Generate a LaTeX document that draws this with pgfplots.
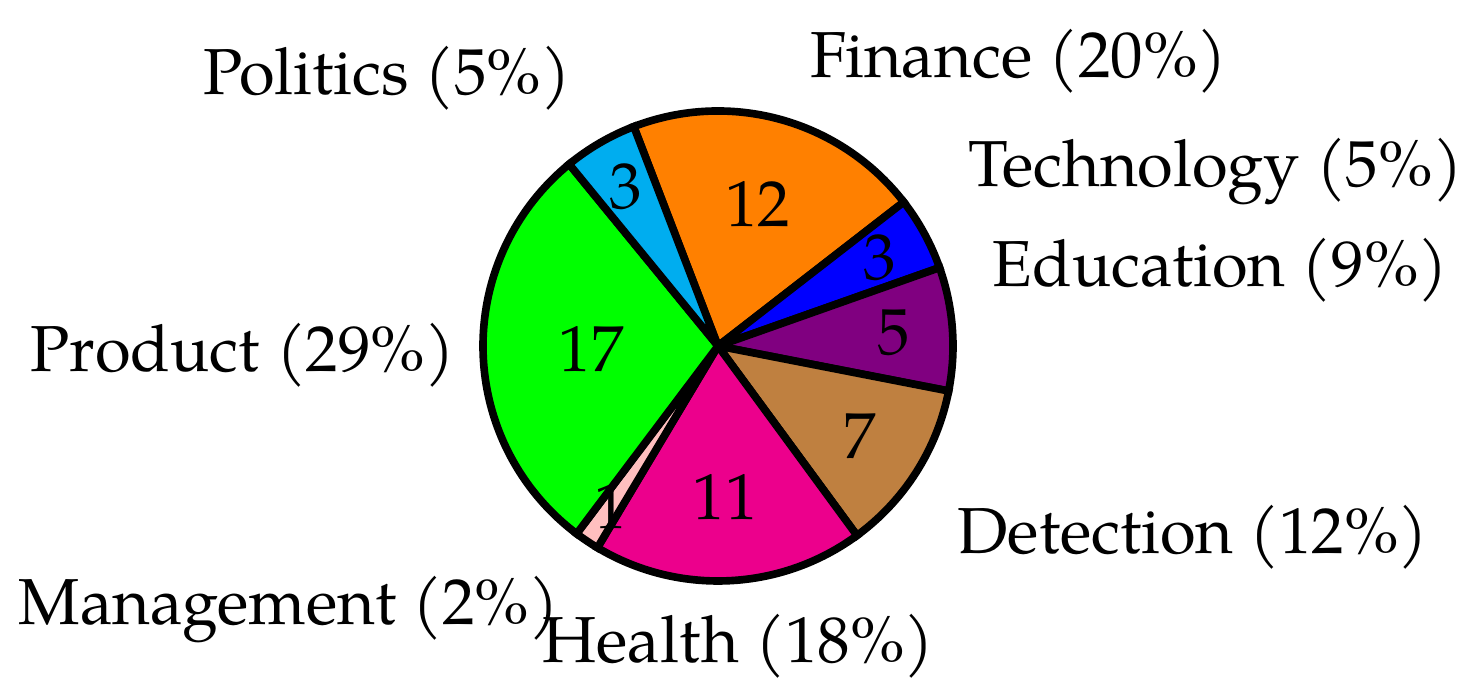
\documentclass[border=0pt]{standalone}
\usepackage{fontspec}
\setmainfont{TeX Gyre Pagella}
\usepackage{pgfplots}
\usepackage{pgfplotstable}
\pgfplotsset{compat=1.18}

\definecolor{cPol}{RGB}{0,173,239}
\definecolor{cFin}{RGB}{255,128,0}
\definecolor{cTec}{RGB}{0,0,255}
\definecolor{cEdu}{RGB}{128,0,128}
\definecolor{cDet}{RGB}{191,128,64}
\definecolor{cHea}{RGB}{236,0,140}
\definecolor{cMan}{RGB}{255,191,191}
\definecolor{cPro}{RGB}{0,255,0}

\pgfplotstableread{
name value
Finance 12
Technology 3
Education 5
Detection 7
Health 11
Management 1
Product 17
Politics 3
}\piedata

\newcommand\getv[2]{\pgfplotstablegetelem{#1}{value}\of\piedata\global\let#2\pgfplotsretval}
\getv{0}\vA \getv{1}\vB \getv{2}\vC \getv{3}\vD
\getv{4}\vE \getv{5}\vF \getv{6}\vG \getv{7}\vH

\pgfmathsetmacro\tot{\vA+\vB+\vC+\vD+\vE+\vF+\vG+\vH}
\pgfmathsetmacro\unit{360/\tot}
% boundary angles (clockwise from 111 degrees)
\pgfmathsetmacro\bO{111}
\pgfmathsetmacro\bA{\bO-\vA*\unit}
\pgfmathsetmacro\bB{\bA-\vB*\unit}
\pgfmathsetmacro\bC{\bB-\vC*\unit}
\pgfmathsetmacro\bD{\bC-\vD*\unit}
\pgfmathsetmacro\bE{\bD-\vE*\unit}
\pgfmathsetmacro\bF{\bE-\vF*\unit}
\pgfmathsetmacro\bG{\bF-\vG*\unit}
\pgfmathsetmacro\bH{\bG-\vH*\unit}
\pgfmathsetmacro\xO{cos(\bO)}\pgfmathsetmacro\yO{sin(\bO)}
\pgfmathsetmacro\xA{cos(\bA)}\pgfmathsetmacro\yA{sin(\bA)}
\pgfmathsetmacro\xB{cos(\bB)}\pgfmathsetmacro\yB{sin(\bB)}
\pgfmathsetmacro\xC{cos(\bC)}\pgfmathsetmacro\yC{sin(\bC)}
\pgfmathsetmacro\xD{cos(\bD)}\pgfmathsetmacro\yD{sin(\bD)}
\pgfmathsetmacro\xE{cos(\bE)}\pgfmathsetmacro\yE{sin(\bE)}
\pgfmathsetmacro\xF{cos(\bF)}\pgfmathsetmacro\yF{sin(\bF)}
\pgfmathsetmacro\xG{cos(\bG)}\pgfmathsetmacro\yG{sin(\bG)}
% number positions
\newcommand\numpos[5]{% value, start, end, xmacro, ymacro
  \pgfmathsetmacro\tmpr{1.045*(0.8-min(0.3*#1*\unit/110,0.5))}%
  \pgfmathsetmacro\tmpm{(#2+#3)/2}%
  \pgfmathsetmacro#4{\tmpr*cos(\tmpm)}%
  \pgfmathsetmacro#5{\tmpr*sin(\tmpm)}}
\numpos{\vA}{\bO}{\bA}\nxA\nyA
\numpos{\vB}{\bA}{\bB}\nxB\nyB
\numpos{\vC}{\bB}{\bC}\nxC\nyC
\numpos{\vD}{\bC}{\bD}\nxD\nyD
\numpos{\vE}{\bD}{\bE}\nxE\nyE
\numpos{\vF}{\bE}{\bF}\nxF\nyF
\numpos{\vG}{\bF}{\bG}\nxG\nyG
\numpos{\vH}{\bG}{\bH}\nxH\nyH

\def\R{84.6pt}

\begin{document}
\begin{tikzpicture}[every node/.append style={font=\fontsize{23.4pt}{28pt}\selectfont}]
\begin{axis}[
  x=\R, y=\R,
  xmin=-3.05532, xmax=3.16170,
  ymin=-1.48936, ymax=1.47234,
  hide axis, clip=false,
  every axis plot/.append style={draw=black, line width=2.75pt},
]
\addplot[fill=cFin] coordinates {(0,0) (\xO,\yO)} arc[start angle=\bO, end angle=\bA, radius=\R] -- cycle;
\addplot[fill=cTec] coordinates {(0,0) (\xA,\yA)} arc[start angle=\bA, end angle=\bB, radius=\R] -- cycle;
\addplot[fill=cEdu] coordinates {(0,0) (\xB,\yB)} arc[start angle=\bB, end angle=\bC, radius=\R] -- cycle;
\addplot[fill=cDet] coordinates {(0,0) (\xC,\yC)} arc[start angle=\bC, end angle=\bD, radius=\R] -- cycle;
\addplot[fill=cHea] coordinates {(0,0) (\xD,\yD)} arc[start angle=\bD, end angle=\bE, radius=\R] -- cycle;
\addplot[fill=cMan] coordinates {(0,0) (\xE,\yE)} arc[start angle=\bE, end angle=\bF, radius=\R] -- cycle;
\addplot[fill=cPro] coordinates {(0,0) (\xF,\yF)} arc[start angle=\bF, end angle=\bG, radius=\R] -- cycle;
\addplot[fill=cPol] coordinates {(0,0) (\xG,\yG)} arc[start angle=\bG, end angle=\bH, radius=\R] -- cycle;

\node[inner sep=0] at (axis cs:\nxA,\nyA) {\vA};
\node[inner sep=0] at (axis cs:\nxB,\nyB) {\vB};
\node[inner sep=0] at (axis cs:\nxC,\nyC) {\vC};
\node[inner sep=0] at (axis cs:\nxD,\nyD) {\vD};
\node[inner sep=0] at (axis cs:\nxE,\nyE) {\vE};
\node[inner sep=0] at (axis cs:\nxF,\nyF) {\vF};
\node[inner sep=0] at (axis cs:\nxG,\nyG) {\vG};
\node[inner sep=0] at (axis cs:\nxH,\nyH) {\vH};

\node[anchor=base west, inner sep=0] at (axis cs:0.3915,1.1404) {Finance (20\%)};
\node[anchor=base west, inner sep=0] at (axis cs:-2.1915,1.0681) {Politics (5\%)};
\node[anchor=base west, inner sep=0] at (axis cs:1.0638,0.6766) {Technology (5\%)};
\node[anchor=base west, inner sep=0] at (axis cs:1.1660,0.2511) {Education (9\%)};
\node[anchor=base west, inner sep=0] at (axis cs:-2.9277,-0.1106) {Product (29\%)};
\node[anchor=base west, inner sep=0] at (axis cs:1.0170,-0.8809) {Detection (12\%)};
\node[anchor=base west, inner sep=0] at (axis cs:-2.9787,-1.1872) {Management (2\%)};
\node[anchor=base west, inner sep=0] at (axis cs:-0.7489,-1.3489) {Health (18\%)};
\end{axis}
\pgfresetboundingbox
\path (current axis.south west) rectangle (current axis.north east);
\end{tikzpicture}
\end{document}
